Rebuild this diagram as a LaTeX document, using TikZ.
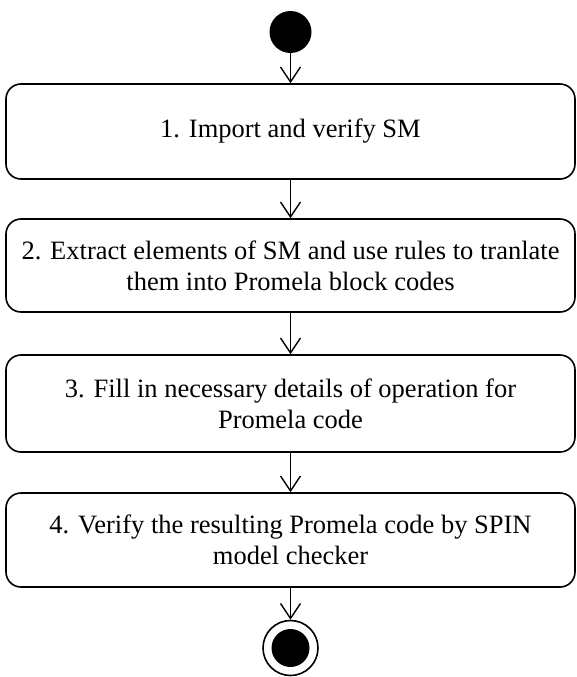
\documentclass[tikz,border=0pt]{standalone}
\usepackage{fontspec}
\setmainfont{Liberation Serif}
\usetikzlibrary{arrows.meta}
\begin{document}
\begin{tikzpicture}[x=1pt,y=-1pt,
 act/.style={draw, line width=1.6pt, rounded corners=15pt, minimum width=569pt, align=center,
   font=\fontsize{26.5}{31}\selectfont, inner sep=0pt},
 flow/.style={draw, line width=1.4pt, -{Straight Barb[length=15pt,width=20pt,line width=1.4pt]}}
]
\useasboundingbox (0,0) rectangle (576,677);
\node[circle, fill, minimum size=42pt, inner sep=0pt] (start) at (290.5,32) {};
\node[act, minimum height=95pt] (a1) at (290.5,131.5) {1. Import and verify SM};
\node[act, minimum height=93pt] (a2) at (290.5,265.5) {2. Extract elements of SM and use rules to tranlate\\them into Promela block codes};
\node[act, minimum height=97pt] (a3) at (290.5,403.5) {3. Fill in necessary details of operation for\\Promela code};
\node[act, minimum height=94pt] (a4) at (290.5,540) {4. Verify the resulting Promela code by SPIN\\model checker};
\node[circle, draw, line width=1.6pt, minimum size=55pt, inner sep=0pt] (end) at (290.5,648) {};
\node[circle, fill, minimum size=38pt, inner sep=0pt] (endin) at (end.center) {};
\draw[flow] (start) -- (a1);
\draw[flow] (a1) -- (a2);
\draw[flow] (a2) -- (a3);
\draw[flow] (a3) -- (a4);
\draw[flow] (a4) -- (end);
\end{tikzpicture}
\end{document}
